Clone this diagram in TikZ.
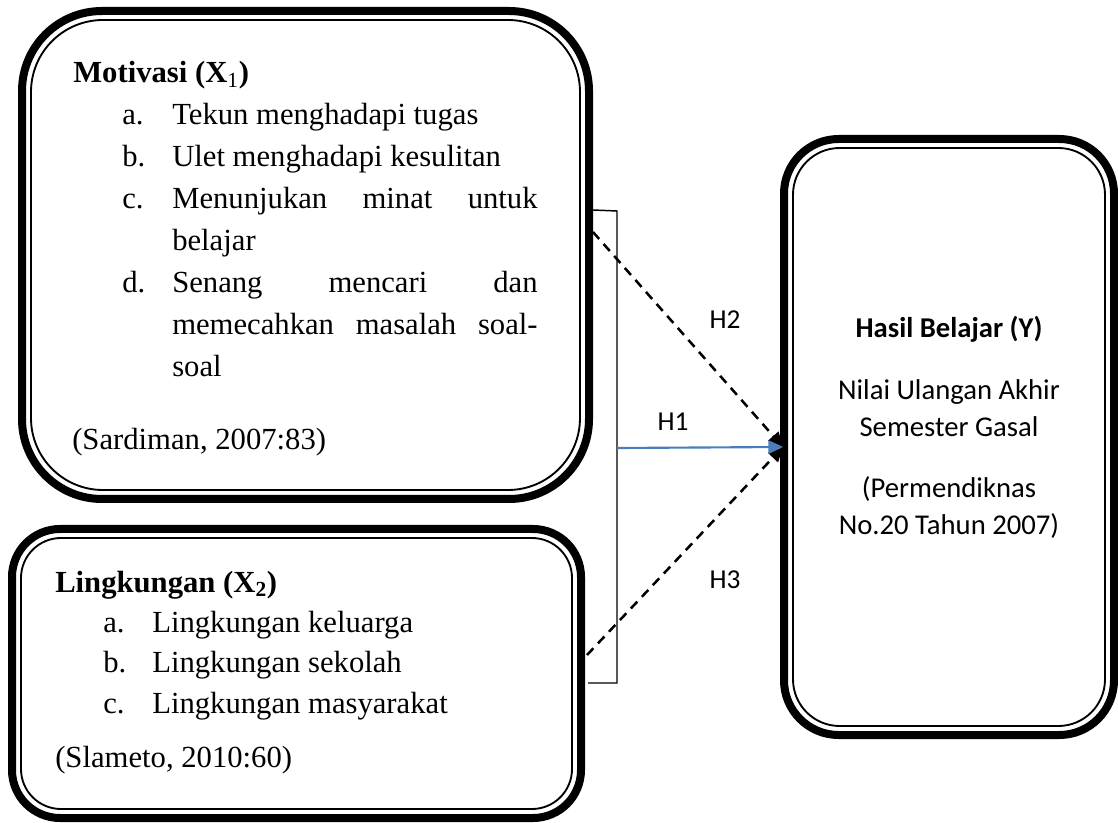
\documentclass[tikz,border=0pt]{standalone}
\usepackage{fontspec}
\setmainfont{Liberation Serif}
\newfontfamily\calfont{Carlito}
\usetikzlibrary{arrows.meta}
\definecolor{hblue}{HTML}{4A7EBB}
\begin{document}
\begin{tikzpicture}[x=0.75pt,y=-0.75pt,
  thickb/.style={line width=6pt},
  thinb/.style={line width=1.4pt},
  tx/.style={anchor=base west, inner sep=0pt, font=\fontsize{23}{27}\selectfont},
  ty/.style={anchor=base, inner sep=0pt, font=\calfont\fontsize{21.5}{26}\selectfont},
  hl/.style={anchor=center, inner sep=0pt, font=\calfont\fontsize{20.5}{24}\selectfont},
  dashline/.style={line width=1.9pt, dash pattern=on 7pt off 5pt, -{Triangle[length=11pt,width=10pt]}},
  bluearrow/.style={hblue, line width=1.6pt, -{Triangle[length=11pt,width=10pt]}},
  bracketline/.style={line width=1.1pt}]
\useasboundingbox (0,0) rectangle (1118,823);
% ---- boxes
\draw[thickb, rounded corners=60pt] (22,11) rectangle (589,499);
\draw[thinb, rounded corners=54pt] (31,20) rectangle (580,490);
\draw[thickb, rounded corners=36pt] (12,529) rectangle (581,818);
\draw[thinb, rounded corners=30pt] (21,538) rectangle (572,809);
\draw[thickb, rounded corners=41pt] (784,139) rectangle (1114,735);
\draw[thinb, rounded corners=35pt] (793,148) rectangle (1105,726);
% ---- box 1 text
\node[tx, font=\fontsize{23}{27}\selectfont\bfseries] (m0) at (73,83) {Motivasi (X\textsubscript{\mdseries 1})};
\node[tx] (ma) at (122,125) {a.};
\node[tx] (mat) at (172,125) {Tekun menghadapi tugas};
\node[tx] (mb) at (122,167) {b.};
\node[tx] (mbt) at (172,167) {Ulet menghadapi kesulitan};
\node[tx] (mc) at (122,209) {c.};
\node[tx] (mct) at (172,209) {\makebox[274pt][s]{Menunjukan minat untuk}};
\node[tx] (mct2) at (172,251) {belajar};
\node[tx] (md) at (122,293) {d.};
\node[tx] (mdt) at (172,293) {\makebox[274pt][s]{Senang mencari dan}};
\node[tx] (mdt2) at (172,335) {\makebox[274pt][s]{memecahkan masalah soal-}};
\node[tx] (mdt3) at (172,377) {soal};
\node[tx] (msrc) at (72,450) {(Sardiman, 2007:83)};
% ---- box 2 text
\node[tx, font=\fontsize{23}{27}\selectfont\bfseries] (l0) at (55,592) {Lingkungan (X\textsubscript{2})};
\node[tx] (la) at (103,632) {a.};
\node[tx] (lat) at (152,632) {Lingkungan keluarga};
\node[tx] (lb) at (103,672) {b.};
\node[tx] (lbt) at (152,672) {Lingkungan sekolah};
\node[tx] (lc) at (103,713) {c.};
\node[tx] (lct) at (152,713) {Lingkungan masyarakat};
\node[tx] (lsrc) at (55,767) {(Slameto, 2010:60)};
% ---- box 3 text
\node[ty, font=\calfont\fontsize{21.5}{26}\selectfont\bfseries] (y0) at (949,338) {Hasil Belajar (Y)};
\node[ty] (y1) at (949,400) {Nilai Ulangan Akhir};
\node[ty] (y2) at (949,437) {Semester Gasal};
\node[ty] (y3) at (949,498) {(Permendiknas};
\node[ty] (y4) at (949,535) {No.20 Tahun 2007)};
% ---- bracket
\coordinate (bt0) at (593,210);
\coordinate (bt1) at (617,211);
\coordinate (bb1) at (617,683);
\coordinate (bb0) at (588,683);
\coordinate (h1s) at (617,448);
\draw[bracketline] (bt0) -- (bt1) -- (bb1) -- (bb0);
% ---- arrows
\coordinate (tip) at (783,447);
\coordinate (h2s) at (593,232);
\coordinate (h3s) at (587,655);
\draw[dashline] (h2s) -- (tip);
\draw[dashline] (h3s) -- (tip);
\draw[bluearrow] (h1s) -- (tip);
% ---- labels
\node[hl] (H2) at (725,320) {H2};
\node[hl] (H1) at (673,422) {H1};
\node[hl] (H3) at (725,580) {H3};
\end{tikzpicture}
\end{document}
